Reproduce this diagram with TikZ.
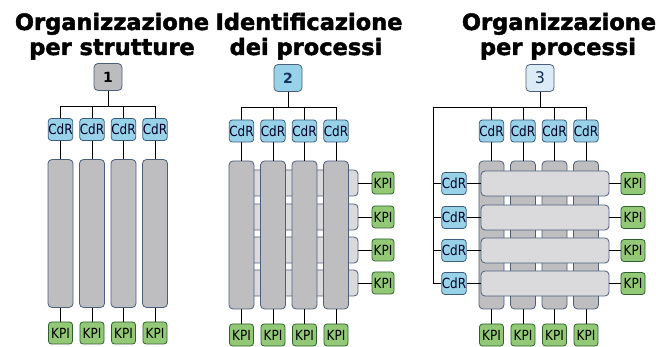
\documentclass[tikz,border=0pt]{standalone}
\usepackage{fontspec}
\setmainfont{DejaVu Sans}
\newfontfamily\headfont[FakeBold=2]{DejaVu Sans Bold}
\newfontfamily\tagfont[FakeStretch=0.86]{DejaVu Sans}
\definecolor{cdrfill}{RGB}{152,210,232}
\definecolor{cdrdraw}{RGB}{60,92,122}
\definecolor{kpifill}{RGB}{146,200,118}
\definecolor{kpidraw}{RGB}{48,96,48}
\definecolor{colfill}{RGB}{190,190,193}
\definecolor{coldraw}{RGB}{78,94,122}
\definecolor{barfill}{RGB}{218,218,221}
\definecolor{numonefill}{RGB}{188,188,190}
\definecolor{numthreefill}{RGB}{220,236,246}
\definecolor{numtext}{RGB}{20,50,90}
\tikzset{
  title/.style={anchor=base,inner sep=0pt,font=\headfont\fontsize{22.5}{26}\selectfont},
  tag/.style={rectangle,rounded corners=3pt,line width=0.8pt,inner sep=0pt,
    minimum width=24pt,minimum height=22pt,font=\tagfont\fontsize{14}{15}\selectfont},
  cdr/.style={tag,fill=cdrfill,draw=cdrdraw,text=black!85!blue},
  kpi/.style={tag,fill=kpifill,draw=kpidraw,text=black},
  num/.style={rectangle,rounded corners=4pt,line width=0.8pt,inner sep=0pt,
    minimum width=28pt,minimum height=27pt,font=\fontsize{14}{15}\selectfont},
  colbox/.style={rectangle,rounded corners=4pt,fill=colfill,draw=coldraw,line width=0.8pt,
    minimum width=25pt,minimum height=148pt,inner sep=0pt},
  procbar/.style={rectangle,rounded corners=4pt,fill=barfill,draw=coldraw,line width=0.8pt,
    minimum height=26pt,inner sep=0pt},
  link/.style={draw=black,line width=0.8pt}
}
\begin{document}
\begin{tikzpicture}[x=1pt,y=-1pt]
\useasboundingbox[fill=white] (0,0) rectangle (656,347);

% ---------- titles ----------
\node[title] (t1a) at (112,30) {Organizzazione};
\node[title] (t1b) at (112,55) {per strutture};
\node[title] (t2a) at (309,30) {Identificazione};
\node[title] (t2b) at (306,55) {dei processi};
\node[title] (t3a) at (559,30) {Organizzazione};
\node[title] (t3b) at (558,55) {per processi};

% ---------- panel 1: organisation by structures ----------
\node[num,fill=numonefill,draw=coldraw,font=\bfseries\fontsize{14}{15}\selectfont] (n1) at (108,77) {1};
\coordinate (b1) at (108,106);
\foreach \i/\x in {1/60.5,2/92,3/123.5,4/155}{
  \node[cdr] (a\i) at (\x,129.5) {CdR};
  \node[colbox] (p\i) at (\x,233.5) {};
  \node[kpi] (k\i) at (\x,333) {KPI};
  \draw[link] (n1.south) -- (b1) -| (a\i.north);
  \draw[link] (a\i.south) -- (p\i.north);
  \draw[link] (p\i.south) -- (k\i.north);
}

% ---------- panel 2: identifying the processes ----------
\node[num,fill=cdrfill,draw=coldraw,text=numtext,font=\bfseries\fontsize{14}{15}\selectfont] (n2) at (288,78) {2};
\coordinate (b2) at (288,107);
% process bars lie behind the columns
\foreach \j/\y in {1/183,2/217,3/250,4/283}{
  \node[procbar,minimum width=118pt] (r\j) at (299,\y) {};
  \node[kpi,minimum width=22pt] (rk\j) at (383,\y) {KPI};
  \draw[link] (r\j.east) -- (rk\j.west);
}
\foreach \i/\x in {1/241.5,2/273,3/304.5,4/336}{
  \node[cdr] (d\i) at (\x,131) {CdR};
  \node[colbox] (q\i) at (\x,235) {};
  \node[kpi] (m\i) at (\x,335) {KPI};
  \draw[link] (n2.south) -- (b2) -| (d\i.north);
  \draw[link] (d\i.south) -- (q\i.north);
  \draw[link] (q\i.south) -- (m\i.north);
}

% ---------- panel 3: organisation by processes ----------
\node[num,fill=numthreefill,draw=coldraw,text=numtext,font=\fontsize{16}{17}\selectfont] (n3) at (540,78) {3};
\coordinate (b3) at (540,107);
\coordinate (lt) at (433,107);
\foreach \i/\x in {1/491.5,2/523,3/554.5,4/586}{
  \node[cdr] (e\i) at (\x,131) {CdR};
  \node[colbox] (s\i) at (\x,235) {};
  \node[kpi] (o\i) at (\x,335) {KPI};
  \draw[link] (n3.south) -- (b3) -| (e\i.north);
  \draw[link] (e\i.south) -- (s\i.north);
  \draw[link] (s\i.south) -- (o\i.north);
}
\draw[link] (b3) -- (lt);
% process bars lie in front of the columns
\foreach \j/\y in {1/183.5,2/217.5,3/250.5,4/283.5}{
  \node[procbar,minimum width=128pt,minimum height=25pt] (h\j) at (545,\y) {};
  \node[cdr,minimum width=23pt] (l\j) at (454,\y) {CdR};
  \node[kpi] (g\j) at (633,\y) {KPI};
  \draw[link] (lt) |- (l\j.west);
  \draw[link] (l\j.east) -- (h\j.west);
  \draw[link] (h\j.east) -- (g\j.west);
}
\end{tikzpicture}
\end{document}
